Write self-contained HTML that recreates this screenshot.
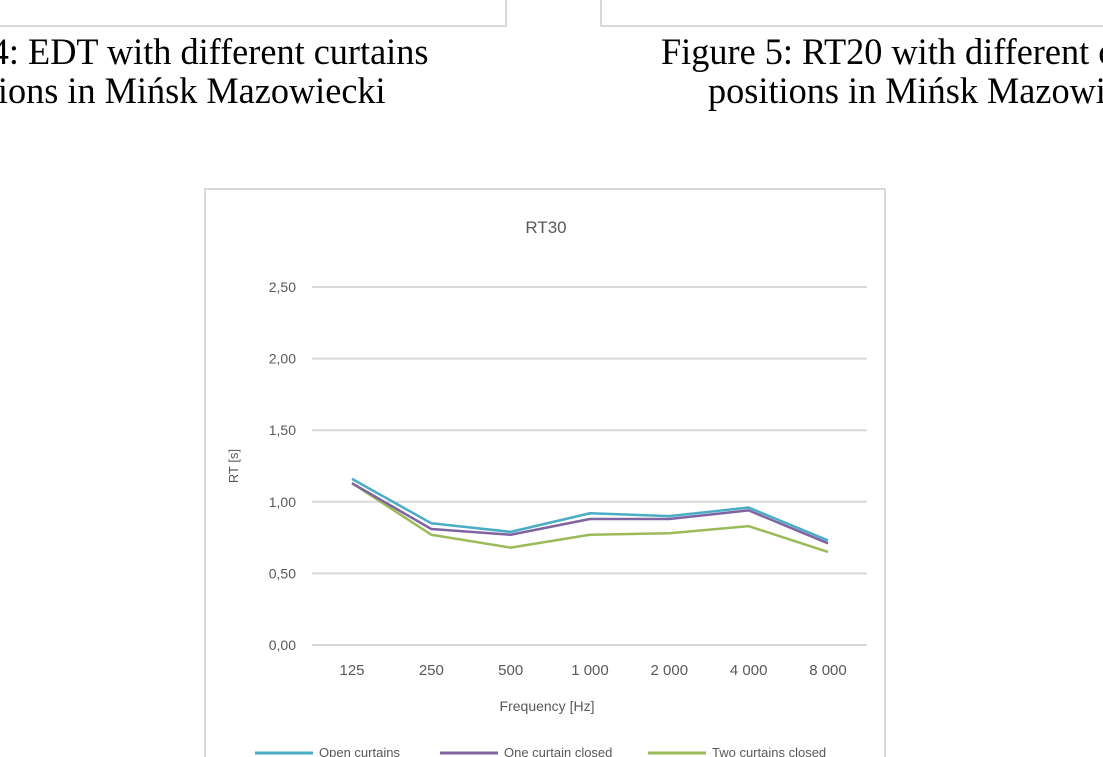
<!DOCTYPE html>
<html><head><meta charset="utf-8"><style>
body{margin:0;width:1103px;height:757px;overflow:hidden;background:#fff;position:relative;font-family:"Liberation Sans",sans-serif}
#wrap{position:absolute;left:0;top:0;width:1103px;height:757px;overflow:hidden}
.cap{position:absolute;font-family:"Liberation Serif",serif;font-size:37px;color:#000;white-space:nowrap;line-height:1}
.panel{position:absolute;border:2px solid #d9d9d9;background:#fff}
</style></head><body>
<div id="wrap">
<div class="panel" style="left:-10px;top:-10px;width:513px;height:33px"></div>
<div class="panel" style="left:600px;top:-10px;width:520px;height:33px"></div>
<div class="cap" style="right:675px;top:34px;transform:scaleX(0.98);transform-origin:right">Figure 4: EDT with different curtains</div>
<div class="cap" style="right:717px;top:73px;transform:scaleX(0.98);transform-origin:right">positions in Mińsk Mazowiecki</div>
<div class="cap" style="left:661px;top:34px;transform:scaleX(0.98);transform-origin:left">Figure 5: RT20 with different curtains</div>
<div class="cap" style="left:708px;top:73px;transform:scaleX(0.98);transform-origin:left">positions in Mińsk Mazowiecki</div>
<svg id="chart" width="1103" height="757" style="position:absolute;left:0;top:0">
<rect x="205" y="189" width="680" height="600" fill="#fff" stroke="#d9d9d9" stroke-width="2"/>
<text x="546" y="233" text-anchor="middle" font-size="17" fill="#595959">RT30</text>
<text transform="translate(238,466) rotate(-90)" text-anchor="middle" font-size="13" fill="#595959">RT [s]</text>
<text x="547" y="711" text-anchor="middle" font-size="14" fill="#595959">Frequency [Hz]</text>
<g id="grid"></g><g id="xl"></g><g id="lines"></g><g id="legend"></g>
</svg>
</div>
<script>
const categories=["125","250","500","1 000","2 000","4 000","8 000"];
const openCurtains=[1.16,0.85,0.79,0.92,0.90,0.96,0.73];
const oneClosed=[1.13,0.81,0.77,0.88,0.88,0.94,0.71];
const twoClosed=[1.13,0.77,0.68,0.77,0.78,0.83,0.65];
const yTicks=[0,0.5,1,1.5,2,2.5];
const yTickLabels=["0,00","0,50","1,00","1,50","2,00","2,50"];
const seriesNames=["Open curtains","One curtain closed","Two curtains closed"];
const NS="http://www.w3.org/2000/svg";
function y(v){return 645-v*143.2;}
function x(i){return 352+i*79.33;}
function mk(t,a,p){const e=document.createElementNS(NS,t);for(const k in a)e.setAttribute(k,a[k]);p.appendChild(e);return e;}
const grid=document.getElementById('grid');
yTicks.forEach((v,i)=>{
 const l=mk('line',{x1:312,x2:867,y1:y(v),y2:y(v),stroke:'#d9d9d9','stroke-width':2},grid);
 
 
 const t=mk('text',{x:296,y:y(v)+5,'text-anchor':'end','font-size':14,fill:'#595959'},grid);
 t.textContent=yTickLabels[i];
 
 
});
const xl=document.getElementById('xl');
categories.forEach((c,i)=>{
 const t=mk('text',{x:x(i),y:675,'text-anchor':'middle','font-size':15,fill:'#595959'},xl);
 t.textContent=c;
 
 
});
const colors=['#4bacc6','#8064a2','#9bbb59'];
const data=[openCurtains,oneClosed,twoClosed];
const lines=document.getElementById('lines');
[2,1,0].forEach(s=>{
 const p=mk('polyline',{points:data[s].map((v,i)=>x(i)+','+y(v)).join(' '),fill:'none',stroke:colors[s],'stroke-width':2.5,'stroke-linejoin':'round'},lines);
 
 
});
const lg=document.getElementById('legend');
const lx=[255,440,648];
seriesNames.forEach((n,s)=>{
 const g=mk('g',{},lg);
 
 
 mk('line',{x1:lx[s],x2:lx[s]+58,y1:753,y2:753,stroke:colors[s],'stroke-width':3},g);
 const t=mk('text',{x:lx[s]+64,y:757,'font-size':13,fill:'#595959'},g);
 t.textContent=n;
});
</script>
</body></html>
